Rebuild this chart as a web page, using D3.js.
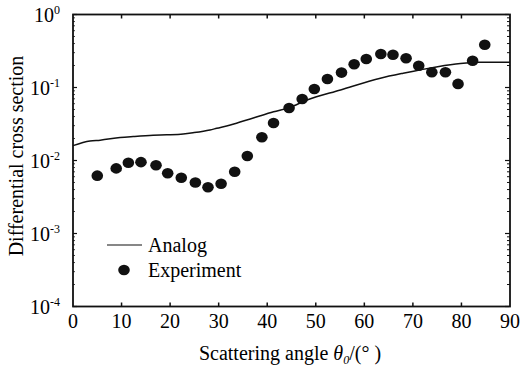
<!DOCTYPE html>
<html lang="en">
<head>
<meta charset="UTF-8">
<script src="https://d3js.org/d3.v7.min.js"></script>
<title>Differential cross section</title>
<style>
  body { margin: 0; background: #fff; }
  text { font-family: "Liberation Serif", "Times New Roman", serif; fill: #000; }
</style>
</head>
<body>
<svg id="chart" width="520" height="372"></svg>
<script>
// experiment points (angle in degrees, cross section)
var expAngle = [5.0, 8.9, 11.4, 14.0, 17.1, 19.5, 22.3, 25.2, 27.8, 30.5,
                33.3, 35.9, 38.9, 41.3, 44.5, 47.2, 49.7, 52.4, 55.3, 57.9,
                60.4, 63.4, 65.9, 68.6, 71.2, 73.9, 76.7, 79.3, 82.3, 84.8];
var expValue = [0.0062, 0.0078, 0.0093, 0.0095, 0.0086, 0.0067, 0.0058, 0.0050, 0.0043, 0.0048,
                0.0070, 0.0115, 0.0208, 0.0327, 0.0524, 0.0696, 0.0954, 0.131, 0.160, 0.208,
                0.246, 0.288, 0.281, 0.251, 0.199, 0.162, 0.162, 0.112, 0.233, 0.386];

// simulated curve
var anaAngle = [0, 3.5, 5.6, 9.7, 12.4, 16.5, 19.3, 22.7, 24.7, 28.2, 29.6, 32.4, 34.4,
                36.5, 38.6, 41.3, 44.5, 48.2, 55.1, 63.3, 68.0, 75.1, 79.8, 81.9, 83.3, 90];
var anaValue = [0.0160, 0.0185, 0.0190, 0.0206, 0.0213, 0.0222, 0.0225, 0.0231, 0.0240, 0.0262,
                0.0276, 0.0306, 0.0336, 0.0370, 0.0410, 0.0465, 0.0530, 0.0674, 0.0924, 0.134,
                0.157, 0.193, 0.213, 0.219, 0.221, 0.221];

var xTicks = [0, 10, 20, 30, 40, 50, 60, 70, 80, 90];
var yExponents = [0, -1, -2, -3, -4];

var pL = 73, pR = 510, pT = 14.5, pB = 306.5;
var svg = d3.select("#chart");

var x = d3.scaleLinear().domain([0, 90]).range([pL, pR]);
var y = d3.scaleLog().domain([1e-4, 1]).range([pB, pT]);

// minor log ticks
var minors = [];
for (var e = -4; e < 0; e++) {
  for (var k = 2; k <= 9; k++) minors.push(k * Math.pow(10, e));
}
var majors = yExponents.map(function(p) { return Math.pow(10, p); });

var axisG = svg.append("g").attr("stroke", "#111");

// bottom and top ticks (inward)
axisG.selectAll(".xb").data(xTicks.slice(1, -1)).enter().append("line")
  .attr("x1", function(d) { return x(d); }).attr("x2", function(d) { return x(d); })
  .attr("y1", pB).attr("y2", pB - 4).attr("stroke-width", 1.5);
axisG.selectAll(".xt").data(xTicks.slice(1, -1)).enter().append("line")
  .attr("x1", function(d) { return x(d); }).attr("x2", function(d) { return x(d); })
  .attr("y1", pT).attr("y2", pT + 4).attr("stroke-width", 1.5);

// left and right ticks (inward)
axisG.selectAll(".yl").data(majors).enter().append("line")
  .attr("x1", pL).attr("x2", pL + 4)
  .attr("y1", function(d) { return y(d); }).attr("y2", function(d) { return y(d); })
  .attr("stroke-width", 1.2);
axisG.selectAll(".ylm").data(minors).enter().append("line")
  .attr("x1", pL).attr("x2", pL + 2)
  .attr("y1", function(d) { return y(d); }).attr("y2", function(d) { return y(d); })
  .attr("stroke-width", 0.8);
axisG.selectAll(".yr").data(majors).enter().append("line")
  .attr("x1", pR).attr("x2", pR - 5)
  .attr("y1", function(d) { return y(d); }).attr("y2", function(d) { return y(d); })
  .attr("stroke-width", 1.2);
axisG.selectAll(".yrm").data(minors).enter().append("line")
  .attr("x1", pR).attr("x2", pR - 3)
  .attr("y1", function(d) { return y(d); }).attr("y2", function(d) { return y(d); })
  .attr("stroke-width", 1);

// frame
svg.append("rect")
  .attr("x", pL).attr("y", pT)
  .attr("width", pR - pL).attr("height", pB - pT)
  .attr("fill", "none").attr("stroke", "#111").attr("stroke-width", 1.8);

// x tick labels
svg.selectAll(".xl").data(xTicks).enter().append("text")
  .attr("x", function(d) { return x(d); })
  .attr("y", pB + 21)
  .attr("text-anchor", "middle")
  .attr("font-size", 20)
  .text(function(d) { return d; });

// y tick labels 10^n
var yl = svg.selectAll(".ylab").data(yExponents).enter().append("text")
  .attr("x", 60)
  .attr("y", function(d) { return y(Math.pow(10, d)) + 7; })
  .attr("text-anchor", "end")
  .attr("font-size", 20);
yl.append("tspan").text("10");
yl.append("tspan").attr("font-size", 12).attr("dy", -8)
  .text(function(d) { return d === 0 ? "0" : "-" + (-d); });

// analog line
var line = d3.line()
  .x(function(d, i) { return x(anaAngle[i]); })
  .y(function(d) { return y(d); })
  .curve(d3.curveMonotoneX);
svg.append("path").datum(anaValue)
  .attr("d", line)
  .attr("fill", "none").attr("stroke", "#111").attr("stroke-width", 1.5);

// experiment dots
svg.selectAll(".dot").data(expValue).enter().append("ellipse")
  .attr("cx", function(d, i) { return x(expAngle[i]); })
  .attr("cy", function(d) { return y(d); })
  .attr("rx", 5.8).attr("ry", 5.3)
  .attr("fill", "#111");

// legend
svg.append("line").attr("x1", 107).attr("x2", 142).attr("y1", 245).attr("y2", 245)
  .attr("stroke", "#111").attr("stroke-width", 1.2);
svg.append("text").attr("x", 148).attr("y", 252).attr("font-size", 20).text("Analog");
svg.append("ellipse").attr("cx", 124).attr("cy", 270).attr("rx", 5.8).attr("ry", 5.3).attr("fill", "#111");
svg.append("text").attr("x", 148).attr("y", 277).attr("font-size", 20).text("Experiment");

// axis titles
svg.append("text")
  .attr("transform", "translate(23,156) rotate(-90)")
  .attr("text-anchor", "middle")
  .attr("font-size", 20)
  .text("Differential cross section");

var xt = svg.append("text").attr("x", 290).attr("y", 360)
  .attr("text-anchor", "middle").attr("font-size", 20);
xt.append("tspan").text("Scattering angle ");
xt.append("tspan").attr("font-style", "italic").text("θ");
xt.append("tspan").attr("font-size", 12).attr("dy", 4).attr("font-style", "italic").text("0");
xt.append("tspan").attr("dy", -4).text("/(° )");
</script>
</body>
</html>
